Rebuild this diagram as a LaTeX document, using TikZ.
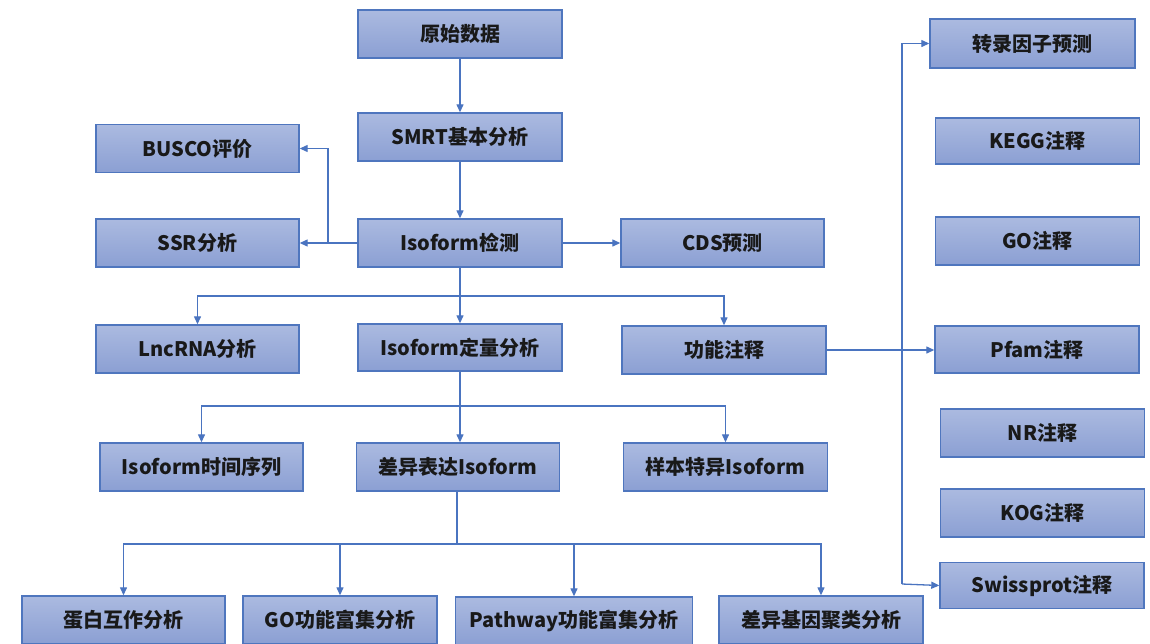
\documentclass[tikz,border=0pt]{standalone}
\usepackage{fontspec}
\setmainfont{Noto Sans CJK SC}
\usetikzlibrary{arrows.meta}
\definecolor{boxtop}{HTML}{ABBAE0}
\definecolor{boxbot}{HTML}{8B9FD3}
\definecolor{boxline}{HTML}{4F76BE}
\definecolor{conn}{HTML}{4A74C0}
\begin{document}
\begin{tikzpicture}[x=1pt,y=-1pt,
  box/.style={rectangle, draw=boxline, line width=1.4pt, top color=boxtop, bottom color=boxbot,
    minimum width=204pt, minimum height=48pt, inner sep=0pt,
    font=\fontsize{20}{22}\selectfont\bfseries, text=black!90},
  link/.style={draw=conn, line width=1.3pt},
  arr/.style={link, -{Triangle[length=8pt,width=7pt]}}]
\useasboundingbox (0,0) rectangle (1150,643);
\fill[white] (0,0) rectangle (1150,643);
% main column
\node[box] (yuan) at (460,34) {原始数据};
\node[box] (smrt) at (460,137) {SMRT基本分析};
\node[box] (iso) at (460,243) {Isoform检测};
\node[box, minimum width=203pt] (busco) at (197.5,148.5) {BUSCO评价};
\node[box, minimum width=203pt] (ssr) at (197.5,243) {SSR分析};
\node[box, minimum width=203pt] (cds) at (722.5,243) {CDS预测};
\node[box, minimum width=203pt] (lnc) at (197.5,349) {LncRNA分析};
\node[box, minimum height=47pt] (quant) at (460,347.5) {Isoform定量分析};
\node[box] (func) at (724,350) {功能注释};
\node[box, minimum width=203pt] (time) at (201.5,467) {Isoform时间序列};
\node[box, minimum width=203pt] (diff) at (458,467) {差异表达Isoform};
\node[box] (spec) at (725.5,467) {样本特异Isoform};
% bottom row
\node[box, minimum width=203pt] (ppi) at (123.5,620) {蛋白互作分析};
\node[box, minimum width=194pt] (gofe) at (340,620) {GO功能富集分析};
\node[box, minimum width=237pt] (path) at (574,621) {Pathway功能富集分析};
\node[box] (clus) at (821,620) {差异基因聚类分析};
% right column
\node[box, minimum width=205pt, minimum height=49pt] (tf) at (1032.5,43.5) {转录因子预测};
\node[box, minimum height=46pt] (kegg) at (1037.5,141) {KEGG注释};
\node[box] (go) at (1037.5,241) {GO注释};
\node[box, minimum height=47pt] (pfam) at (1037,349.5) {Pfam注释};
\node[box] (nr) at (1042.5,433) {NR注释};
\node[box] (kog) at (1042.5,513) {KOG注释};
\node[box, minimum height=46pt] (swiss) at (1042,585.5) {Swissprot注释};
% coordinates
\coordinate (bx) at (328,243);
\coordinate (b1) at (460,296);
\coordinate (b2) at (460,406);
\coordinate (b3) at (457,544);
\coordinate (vb) at (902,584);
% connectors
\draw[arr] (yuan) -- (smrt);
\draw[arr] (smrt) -- (iso);
\draw[link] (iso.west) -- (bx);
\draw[arr] (bx) |- (busco.east);
\draw[arr] (bx) -- (ssr.east);
\draw[arr] (iso) -- (cds);
\draw[arr] (iso) -- (quant);
\draw[arr] (b1) -| (lnc.north);
\draw[arr] (b1) -| (func.north);
\draw[arr] (quant.south) -- (quant.south |- diff.north);
\draw[arr] (b2) -| (time.north);
\draw[arr] (b2) -| (spec.north);
\draw[link] (diff.south -| b3) -- (b3);
\draw[arr] (b3) -| (ppi.north);
\draw[arr] (b3) -| (gofe.north);
\draw[arr] (b3) -| (path.north);
\draw[arr] (b3) -| (clus.north);
\draw[arr] (func.east) -- (func.east -| pfam.west);
\draw[arr] (vb) |- (tf.west);
\draw[arr] (vb) -- (swiss.west);
\end{tikzpicture}
\end{document}
